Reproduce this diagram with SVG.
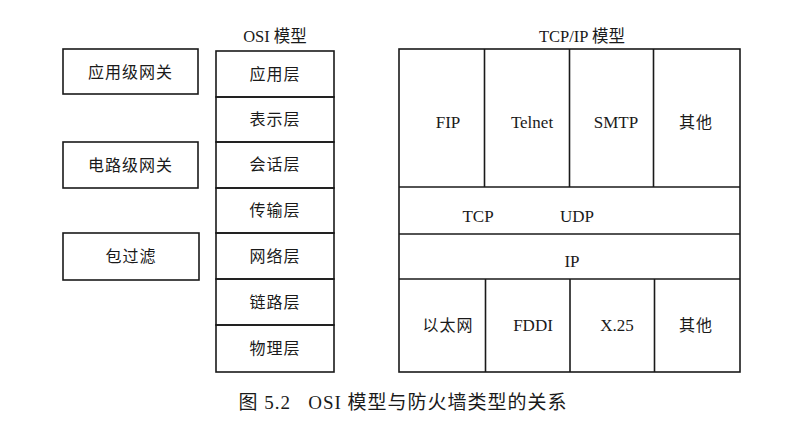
<svg xmlns="http://www.w3.org/2000/svg" width="799" height="440" viewBox="0 0 799 440">
<style>
.bx{fill:none;stroke:#1a1a1a;stroke-width:1.6}
.ln{stroke:#1a1a1a;stroke-width:1.6}
text{font-family:"Liberation Serif","Noto Sans CJK SC",serif;fill:#1a1a1a;font-size:17px;text-anchor:middle;dominant-baseline:central}
.cn{letter-spacing:1px;font-size:16px}
.cap{font-size:19px;letter-spacing:1px;dominant-baseline:auto}
.ttl{font-size:16.5px;dominant-baseline:auto}
</style>
<rect width="799" height="440" fill="#ffffff"/>
<g id="firewall-types">
<g id="app-gateway"><rect class="bx" x="63" y="49" width="135" height="45"/><text class="cn" x="130.5" y="72">应用级网关</text></g>
<g id="circuit-gateway"><rect class="bx" x="63" y="142" width="135" height="46"/><text class="cn" x="130.5" y="165">电路级网关</text></g>
<g id="packet-filter"><rect class="bx" x="63" y="233" width="136" height="47"/><text class="cn" x="131" y="256">包过滤</text></g>
</g>
<g id="osi-model">
<text class="ttl" x="275" y="42">OSI 模型</text>
<g id="osi-app"><rect class="bx" x="216" y="51" width="118" height="46"/><text class="cn" x="275" y="74">应用层</text></g>
<g id="osi-pres"><rect class="bx" x="216" y="97" width="118" height="45"/><text class="cn" x="275" y="119">表示层</text></g>
<g id="osi-sess"><rect class="bx" x="216" y="142" width="118" height="46"/><text class="cn" x="275" y="164">会话层</text></g>
<g id="osi-trans"><rect class="bx" x="216" y="188" width="118" height="45"/><text class="cn" x="275" y="210">传输层</text></g>
<g id="osi-net"><rect class="bx" x="216" y="233" width="118" height="46"/><text class="cn" x="275" y="256">网络层</text></g>
<g id="osi-link"><rect class="bx" x="216" y="279" width="118" height="46"/><text class="cn" x="275" y="302">链路层</text></g>
<g id="osi-phys"><rect class="bx" x="216" y="325" width="118" height="47"/><text class="cn" x="275" y="348">物理层</text></g>
</g>
<g id="tcpip-model">
<text class="ttl" x="582" y="42">TCP/IP 模型</text>
<rect class="bx" x="399" y="49" width="341" height="323"/>
<g id="app-row">
<line class="ln" x1="399" y1="187" x2="740" y2="187"/>
<line class="ln" x1="484.5" y1="49" x2="484.5" y2="187"/>
<line class="ln" x1="569.5" y1="49" x2="569.5" y2="187"/>
<line class="ln" x1="653.5" y1="49" x2="653.5" y2="187"/>
<text x="448" y="122">FIP</text>
<text x="532" y="122">Telnet</text>
<text x="616" y="122">SMTP</text>
<text class="cn" x="696" y="122">其他</text>
</g>
<g id="transport-row">
<line class="ln" x1="399" y1="234" x2="740" y2="234"/>
<text x="478" y="216">TCP</text>
<text x="577" y="216">UDP</text>
</g>
<g id="ip-row">
<line class="ln" x1="399" y1="279" x2="740" y2="279"/>
<text x="572" y="261">IP</text>
</g>
<g id="link-row">
<line class="ln" x1="485.5" y1="279" x2="485.5" y2="372"/>
<line class="ln" x1="570" y1="279" x2="570" y2="372"/>
<line class="ln" x1="654.5" y1="279" x2="654.5" y2="372"/>
<text class="cn" x="448" y="325">以太网</text>
<text x="533" y="325">FDDI</text>
<text x="617" y="325">X.25</text>
<text class="cn" x="696" y="325">其他</text>
</g>
</g>
<text class="cap" x="403" y="409" xml:space="preserve">图 5.2   OSI 模型与防火墙类型的关系</text>
</svg>
